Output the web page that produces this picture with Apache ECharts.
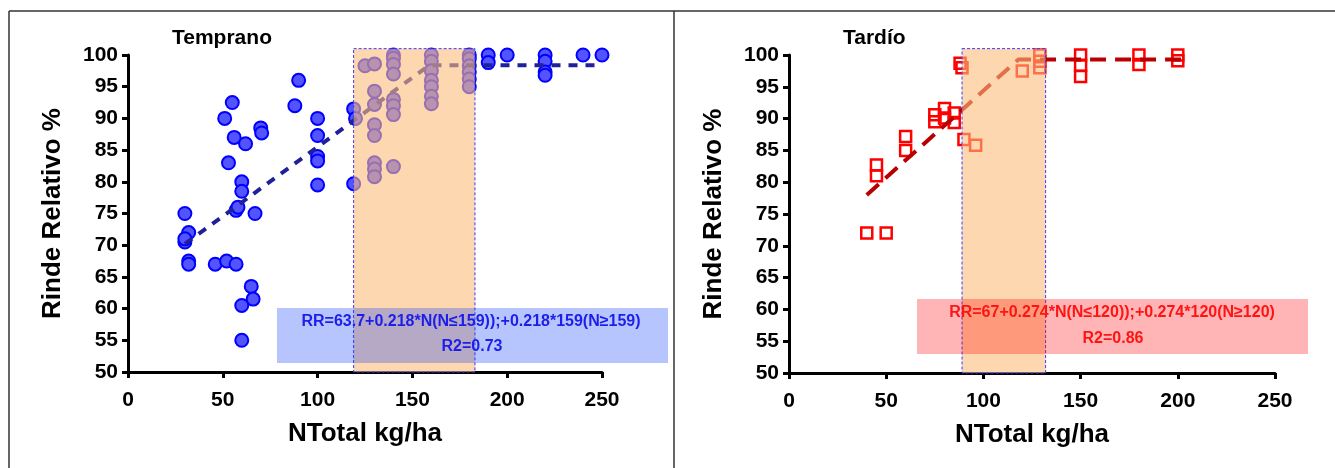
<!DOCTYPE html>
<html>
<head>
<meta charset="utf-8">
<script src="https://cdn.jsdelivr.net/npm/echarts@6/dist/echarts.min.js"></script>
<style>
    html, body { margin: 0; padding: 0; background: #fff; }
    #main { width: 1335px; height: 468px; }
</style>
</head>
<body>
<div id="main"></div>
<script>
// Temprano (circulos azules)
var tempranoN  = [30, 32, 30, 30, 32, 32, 46, 52, 57, 65, 66, 60, 60, 57, 58, 60, 60, 67, 53, 51, 55, 56, 62, 70, 70.5,
                  90, 88, 100, 100, 100, 100, 100, 119, 120, 119, 125, 130, 140, 140, 140, 140, 130, 130, 140, 140, 140,
                  130, 130, 130, 130, 130, 140, 160, 160, 160, 160, 160, 160, 160, 180, 180, 180, 180, 180, 180,
                  190, 190, 200, 220, 220, 220, 220, 240, 250];
var tempranoRR = [75, 72, 70.5, 71, 67.5, 67, 67, 67.5, 67, 63.5, 61.5, 60.5, 55, 75.5, 76, 80, 78.5, 75, 83, 90, 92.5, 87, 86, 88.5, 87.7,
                  96, 92, 90, 87.3, 84, 83.3, 79.5, 91.5, 90, 79.7, 98.3, 98.6, 100, 99.5, 98.5, 97, 94.3, 92.2, 93, 92, 90.6,
                  89, 87.3, 83, 82, 80.8, 82.4, 100, 99, 97.5, 96, 95, 93.5, 92.3, 100, 99.4, 98.3, 97.3, 96.2, 95,
                  100, 98.8, 100, 100, 99, 97.3, 96.8, 100, 100];

// Tardio (cuadrados rojos)
var tardioN  = [40, 50, 45, 45, 60, 60, 75, 75, 80, 80, 85, 85, 88, 89, 90, 96, 120, 129, 129, 129,
                150, 150, 150, 180, 180, 200, 200];
var tardioRR = [72, 72, 82.7, 81, 87.2, 85, 90.6, 89.5, 91.6, 90.1, 90.9, 89.4, 98.7, 98, 86.7, 85.8, 97.5, 100, 99, 98,
                100, 98.4, 96.6, 100, 98.5, 100, 99.1];

// modelos lineal-plateau
var trendTemprano = [[30, 70.2], [159, 98.4], [250, 98.4]];
var trendTardio   = [[40, 78], [118, 99.3], [202, 99.3]];

// rango optimo sombreado (N min, N max)
var bandTemprano = [119, 183];
var bandTardio   = [89, 132];
var bandRR       = [50, 101];

var xTicks = [0, 50, 100, 150, 200, 250];
var yTicks = [50, 55, 60, 65, 70, 75, 80, 85, 90, 95, 100];

var FONT = 'Liberation Sans, Arial, sans-serif';

function pairs(xs, ys) {
    return xs.map(function (x, i) { return [x, ys[i]]; });
}

function makeX(idx) {
    return {
        type: 'value', gridIndex: idx,
        min: xTicks[0], max: xTicks[xTicks.length - 1], interval: xTicks[1] - xTicks[0],
        name: 'NTotal kg/ha', nameLocation: 'middle', nameGap: 49,
        nameTextStyle: { fontFamily: FONT, fontWeight: 'bold', fontSize: 26, color: '#000' },
        axisLine: { lineStyle: { color: '#000', width: 3 } },
        axisTick: { length: 6, lineStyle: { color: '#000', width: 3 } },
        axisLabel: { fontFamily: FONT, fontWeight: 'bold', fontSize: 21, color: '#000', margin: 18 },
        splitLine: { show: false }
    };
}

function makeY(idx) {
    return {
        type: 'value', gridIndex: idx,
        min: yTicks[0], max: yTicks[yTicks.length - 1], interval: yTicks[1] - yTicks[0],
        name: 'Rinde Relativo %', nameLocation: 'middle', nameGap: 62,
        nameTextStyle: { fontFamily: FONT, fontWeight: 'bold', fontSize: 26, color: '#000' },
        axisLine: { lineStyle: { color: '#000', width: 3 } },
        axisTick: { length: 6, lineStyle: { color: '#000', width: 3 } },
        axisLabel: { fontFamily: FONT, fontWeight: 'bold', fontSize: 21, color: '#000', margin: 10 },
        splitLine: { show: false }
    };
}

// banda naranja (encima de los puntos, semitransparente)
function bandSeries(idx, band) {
    return {
        type: 'custom', xAxisIndex: idx, yAxisIndex: idx, z: 4, silent: true, clip: false,
        encode: { x: [0, 1], y: [2, 3] },
        data: [[band[0], band[1], bandRR[0], bandRR[1]]],
        renderItem: function (params, api) {
            var p1 = api.coord([api.value(0), api.value(3)]);
            var p2 = api.coord([api.value(1), api.value(2)]);
            return {
                type: 'rect',
                shape: { x: p1[0], y: p1[1], width: p2[0] - p1[0], height: p2[1] - p1[1] },
                style: { fill: 'rgba(252,188,122,0.6)', stroke: '#3a3aff', lineWidth: 1, lineDash: [3, 2] }
            };
        }
    };
}

function noteText(x, y, text, color) {
    return {
        type: 'text', z: 11, silent: true,
        style: { text: text, x: x, y: y, textAlign: 'center', textVerticalAlign: 'middle',
                 fill: color, font: 'bold 16px ' + FONT }
    };
}

var chart = echarts.init(document.getElementById('main'));

var option = {
    animation: false,
    grid: [
        { left: 128, top: 55, width: 474, height: 317 },
        { left: 789, top: 55, width: 486, height: 318 }
    ],
    xAxis: [makeX(0), makeX(1)],
    yAxis: [makeY(0), makeY(1)],
    series: [
        {
            name: 'Temprano', type: 'scatter', xAxisIndex: 0, yAxisIndex: 0, z: 2,
            symbol: 'circle', symbolSize: 13,
            itemStyle: { color: '#5454ff', borderColor: '#0000ff', borderWidth: 2, opacity: 1 },
            data: pairs(tempranoN, tempranoRR)
        },
        {
            name: 'Modelo Temprano', type: 'line', xAxisIndex: 0, yAxisIndex: 0, z: 3,
            symbol: 'none', silent: true,
            lineStyle: { color: '#20209a', width: 4, type: [9, 8] },
            data: trendTemprano
        },
        bandSeries(0, bandTemprano),
        {
            name: 'Tardio', type: 'scatter', xAxisIndex: 1, yAxisIndex: 1, z: 2,
            symbol: 'rect', symbolSize: 11,
            itemStyle: { color: 'rgba(255,255,255,0)', borderColor: '#ff0000', borderWidth: 2.5, opacity: 1 },
            data: pairs(tardioN, tardioRR)
        },
        {
            name: 'Modelo Tardio', type: 'line', xAxisIndex: 1, yAxisIndex: 1, z: 3,
            symbol: 'none', silent: true,
            lineStyle: { color: '#b80000', width: 4, type: [16, 9] },
            data: trendTardio
        },
        bandSeries(1, bandTardio)
    ],
    graphic: [
        // marco de la figura
        { type: 'line', z: 1, shape: { x1: 9, y1: 11, x2: 1335, y2: 11 }, style: { stroke: '#333', lineWidth: 1.5 } },
        { type: 'line', z: 1, shape: { x1: 9, y1: 11, x2: 9, y2: 468 }, style: { stroke: '#333', lineWidth: 1.5 } },
        { type: 'line', z: 1, shape: { x1: 674, y1: 11, x2: 674, y2: 468 }, style: { stroke: '#333', lineWidth: 1.5 } },
        // titulos
        { type: 'text', z: 11, style: { text: 'Temprano', x: 172, y: 38, textVerticalAlign: 'middle', fill: '#000', font: 'bold 21px ' + FONT } },
        { type: 'text', z: 11, style: { text: 'Tardío', x: 843, y: 38, textVerticalAlign: 'middle', fill: '#000', font: 'bold 21px ' + FONT } },
        // ecuaciones
        { type: 'rect', z: 10, silent: true, shape: { x: 277, y: 308, width: 391, height: 55 }, style: { fill: 'rgba(7,55,255,0.29)' } },
        noteText(471, 322, 'RR=63.7+0.218*N(N≤159));+0.218*159(N≥159)', '#1e1eea'),
        noteText(472, 347, 'R2=0.73', '#1e1eea'),
        { type: 'rect', z: 10, silent: true, shape: { x: 917, y: 299, width: 391, height: 55 }, style: { fill: 'rgba(255,0,0,0.29)' } },
        noteText(1112, 313, 'RR=67+0.274*N(N≤120));+0.274*120(N≥120)', '#ff1414'),
        noteText(1113, 339, 'R2=0.86', '#ff1414')
    ]
};

chart.setOption(option);
</script>
</body>
</html>
